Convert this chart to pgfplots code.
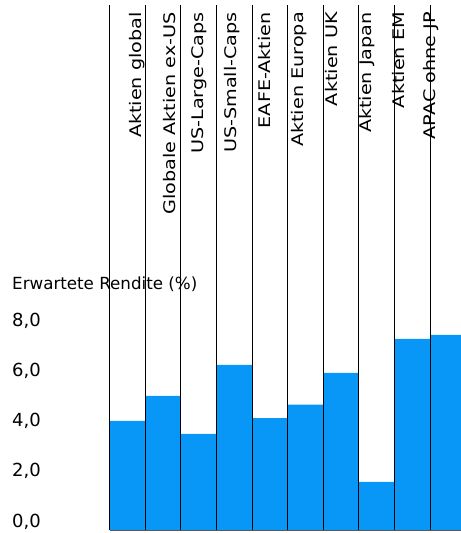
\documentclass[border=0pt]{standalone}
\usepackage{pgfplots}
\pgfplotsset{compat=1.18}
\usepackage{fontspec}
\setmainfont{DejaVu Sans}
\newfontfamily\lblfont{DejaVu Sans}[FakeStretch=1.2]
\definecolor{barblue}{RGB}{8,150,247}
\begin{document}
\begin{tikzpicture}
\path[use as bounding box] (0,0) rectangle (461bp,533bp);
\node[anchor=base west, inner sep=0pt, font=\fontsize{16.7bp}{20bp}\selectfont] at (12bp,243bp) {Erwartete Rendite (\%)};
\begin{axis}[
  at={(109.5bp,3bp)}, anchor=south west,
  scale only axis, width=351.5bp, height=525bp,
  xmin=-0.5, xmax=9.365, ymin=0, ymax=21,
  ybar, bar width=1,
  axis on top,
  separate axis lines,
  axis x line*=bottom, axis y line*=left,
  x axis line style={draw=black!65, line width=0.9bp, -},
  y axis line style={draw=none},
  xtick={-0.5,0.5,...,8.5}, xticklabels={},
  xmajorgrids, grid style={black, line width=1bp},
  major tick length=0pt,
  ytick={0,2,4,6,8},
  yticklabel={\pgfmathprintnumber[fixed,fixed zerofill,precision=1,use comma,assume math mode=true]{\tick}},
  yticklabel style={anchor=base west, inner sep=0pt, xshift=-97.5bp, yshift=3bp, font=\fontsize{18bp}{21bp}\selectfont},
]
\addplot[fill=barblue, draw=none] coordinates {(0,4.36) (1,5.36) (2,3.84) (3,6.60) (4,4.47) (5,5.01) (6,6.28) (7,1.92) (8,7.64) (9,7.80)};
\end{axis}
\foreach \x/\t in {137/Aktien global, 170/Globale Aktien ex-US, 199/US-Large-Caps, 232/US-Small-Caps, 265/EAFE-Aktien, 299/Aktien Europa, 332/Aktien UK, 367/Aktien Japan, 399/Aktien EM, 431/APAC ohne JP}
  \node[rotate=90, anchor=east, inner sep=0pt, font=\lblfont\fontsize{16bp}{19bp}\selectfont] at (\x bp,521bp) {\t};
\end{tikzpicture}
\end{document}
